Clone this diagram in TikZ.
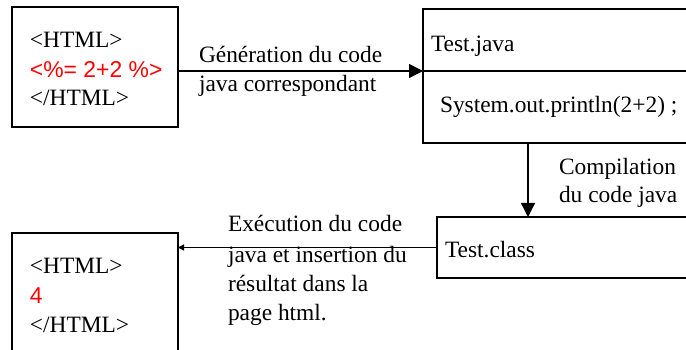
\documentclass[tikz,border=0pt]{standalone}
\usepackage{fontspec}
\setmainfont{Liberation Serif}
\newfontfamily\redsans{Liberation Sans}
\usetikzlibrary{arrows.meta}
\definecolor{jspred}{RGB}{255,0,0}
\tikzset{
  boxshape/.style={draw=black, line width=1.3pt, inner sep=0pt, outer sep=0pt, anchor=north west},
  txt/.style={anchor=base west, inner sep=0pt, outer sep=0pt, font=\fontsize{23.4}{27}\selectfont},
  redtxt/.style={txt, text=jspred, font=\fontsize{22.9}{27}\selectfont\redsans},
  conn/.style={draw=black, line width=1.3pt},
  bigtip/.style={-{Triangle[length=14pt,width=14pt]}},
  smalltip/.style={-{Triangle[length=6pt,width=6pt]}}
}
\begin{document}
\begin{tikzpicture}[x=1pt,y=-1pt]
\useasboundingbox (0,0) rectangle (686,350);
% boxes
\node[boxshape, minimum width=166pt, minimum height=120pt] (src) at (12,7) {};
\node[boxshape, minimum width=290pt, minimum height=62pt] (javatop) at (423,9) {};
\node[boxshape, minimum width=290pt, minimum height=72pt] (javabot) at (423,71) {};
\node[boxshape, minimum width=280pt, minimum height=61pt] (cls) at (437,217) {};
\node[boxshape, minimum width=166pt, minimum height=140pt] (res) at (12,233) {};
% texts in boxes
\node[txt] (s1) at (30,48) {<HTML>};
\node[redtxt] (s2) at (30,78) {<\%= 2+2 \%>};
\node[txt] (s3) at (30,106) {</HTML>};
\node[txt] (jt) at (431,52) {Test.java};
\node[txt] (jb) at (440,113) {System.out.println(2+2) ;};
\node[txt] (ct) at (445,258) {Test.class};
\node[txt] (r1) at (30,273) {<HTML>};
\node[redtxt] (r2) at (30,303) {4};
\node[txt] (r3) at (30,332) {</HTML>};
% labels
\node[txt] (l1a) at (199,63) {Génération du code};
\node[txt] (l1b) at (199,92) {java correspondant};
\node[txt] (l2a) at (559,175) {Compilation};
\node[txt] (l2b) at (559,203) {du code java};
\node[txt] (l3a) at (228,232) {Exécution du code};
\node[txt] (l3b) at (228,262) {java et insertion du};
\node[txt] (l3c) at (228,291) {résultat dans la};
\node[txt] (l3d) at (228,320) {page html.};
% connectors
\coordinate (ax) at (528,0);
\draw[conn, bigtip] (src.east |- javatop.south west) -- (javatop.south west);
\draw[conn, bigtip] (javabot.south -| ax) -- (cls.north -| ax);
\draw[conn, smalltip] (cls.west) -- (cls.west -| res.east);
\end{tikzpicture}
\end{document}
